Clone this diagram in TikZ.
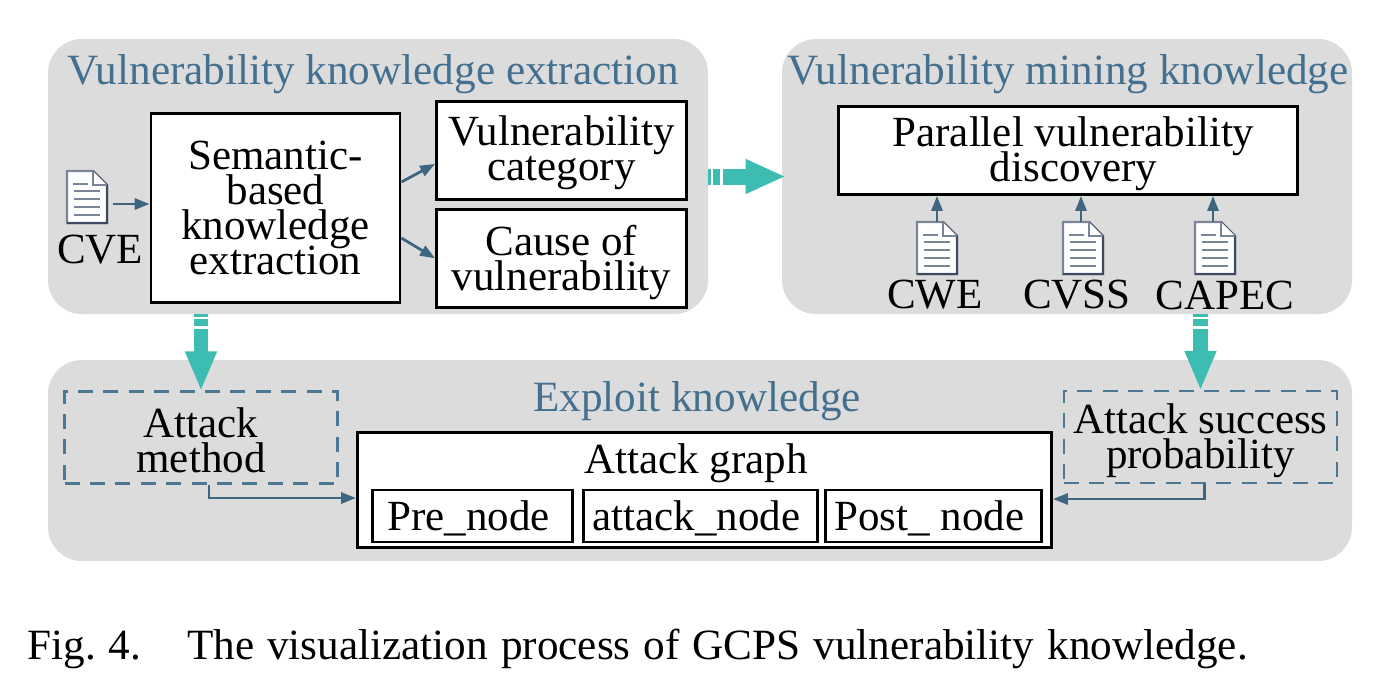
\documentclass[tikz,border=0pt]{standalone}
\usepackage{fontspec}
\setmainfont{Liberation Serif}
\usepackage{xcolor}
\usepackage{tikz}
\usetikzlibrary{arrows.meta}
\usetikzlibrary{positioning}

\definecolor{panelgray}{HTML}{DCDCDC}
\definecolor{titleblue}{HTML}{44708F}
\definecolor{flowblue}{HTML}{3E6680}
\definecolor{dashblue}{HTML}{4A7895}
\definecolor{bigteal}{HTML}{3DBDB1}
\definecolor{docedge}{HTML}{7A8599}
\definecolor{docdark}{HTML}{3F4A60}

\newcommand{\bodyfont}{\fontsize{21.5}{17.5}\selectfont\lineskiplimit=-100pt}

\tikzset{
    panel/.style={fill=panelgray, rounded corners=17pt, inner sep=0pt},
    paneltitle/.style={text=titleblue, font=\fontsize{21.6}{22}\selectfont, inner sep=0pt},
    solidbox/.style={draw=black, fill=white, line width=1.4pt, inner sep=0pt, align=center, font=\bodyfont},
    nodebox/.style={solidbox, minimum height=26pt, text height=17pt, text depth=3pt},
    dashbox/.style={draw=dashblue, line width=1.1pt, dash pattern=on 7.5pt off 5.2pt, inner sep=0pt, align=center, font=\bodyfont},
    doclabel/.style={inner sep=0pt, font=\bodyfont},
    docnode/.style={minimum width=20pt, minimum height=26pt, inner sep=0pt},
    flow/.style={draw=flowblue, line width=1.4pt, -{Triangle[length=7.5pt, width=5.5pt]}},
    bigflow/.style 2 args={draw=bigteal, line width=#1, dash pattern=on 1.5pt off 1pt on 3.5pt off 1.5pt on 200pt off 0pt, -{Triangle[length=20pt, width=#2]}},
    docpic/.pic={
        \draw[fill=white, draw=docedge, line width=1.2pt] (-20,-26) -- (6,-26) -- (20,-12) -- (20,26) -- (-20,26) -- cycle;
        \draw[docdark, line width=1pt] (6,-26) -- (20,-12) -- (20,26) -- (-20,26);
        \draw[fill=white, draw=docedge, line width=1.2pt] (6,-26) -- (6,-12) -- (20,-12);
        \draw[docedge, line width=0.9pt] (-14,-13) -- (1,-13);
        \draw[docedge, line width=1.3pt] (-13,-6) -- (13,-6);
        \draw[docedge, line width=0.9pt] (-13,2) -- (13,2);
        \draw[docedge, line width=0.9pt] (-13,10) -- (13,10);
        \draw[docedge, line width=0.9pt] (-13,18) -- (13,18);
    },
}

\begin{document}
\begin{tikzpicture}[x=0.5pt, y=-0.5pt]
    \useasboundingbox (0,0) rectangle (1378,687);

    % grey panels
    \node[panel, minimum width=330pt, minimum height=137.5pt] (extract) at (378,176.5) {};
    \node[panel, minimum width=285pt, minimum height=137.5pt] (mining) at (1067,176.5) {};
    \node[panel, minimum width=652pt, minimum height=100.5pt] (exploit) at (700,460.5) {};

    \node[paneltitle] (extract title) at (373,74) {Vulnerability knowledge extraction};
    \node[paneltitle] (mining title) at (1068,74) {Vulnerability mining knowledge};
    \node[paneltitle] (exploit title) at (697,401) {Exploit knowledge};

    % top left
    \node[solidbox, minimum width=124.5pt, minimum height=94.5pt] (semantic) at (275.5,208) {Semantic-\\based\\knowledge\\extraction};
    \node[solidbox, minimum width=125pt, minimum height=49pt, text depth=2pt] (category) at (561.5,150.5) {Vulnerability\\category};
    \node[solidbox, minimum width=125pt, minimum height=49pt, text depth=0.6pt, below=3.5pt of category] (cause) {Cause of\\vulnerability};
    \node[docnode] (cve doc) at (87,197) {};
    \node[doclabel] (cve) at (100,250) {CVE};

    % top right
    \node[solidbox, minimum width=229.5pt, minimum height=44pt, text depth=1.2pt] (parallel) at (1068,150.5) {\hspace*{5.5pt}Parallel vulnerability\\\hspace*{5.5pt}discovery};
    \node[docnode] (cwe doc) at (937,248) {};
    \node[docnode] (cvss doc) at (1083,248) {};
    \node[docnode] (capec doc) at (1215,248) {};
    \node[doclabel] (cwe) at (935,295) {CWE};
    \node[doclabel] (cvss) at (1077,295) {CVSS};
    \node[doclabel] (capec) at (1225,295) {CAPEC};

    % bottom row
    \node[dashbox, minimum width=136.5pt, minimum height=46pt] (method) at (201,437.5) {\rule{0pt}{17.7pt}Attack\\method};
    \node[dashbox, minimum width=136.5pt, minimum height=46pt, text depth=1.1pt] (success) at (1200.5,437) {Attack success\\probability};
    \node[solidbox, minimum width=347pt, minimum height=57.5pt] (graph) at (704.5,490) {};
    \node[inner sep=0pt, font=\bodyfont] (graph title) at (696,463) {Attack graph};
    \node[nodebox, minimum width=100pt] (pre) at (472.5,516) {Pre\_node\hspace*{4pt}};
    \node[nodebox, minimum width=117pt, right=4pt of pre] (attack) {attack\_node\hspace*{4pt}};
    \node[nodebox, minimum width=108pt, right=2.6pt of attack] (post) {Post\_ node\hspace*{4pt}};

    % document icons
    \pic at (cve doc) {docpic};
    \pic at (cwe doc) {docpic};
    \pic at (cvss doc) {docpic};
    \pic at (capec doc) {docpic};

    % thin arrows
    \draw[flow, shorten <=3pt] ([yshift=-3.5pt]cve doc.east) -- ([yshift=2pt]semantic.west);
    \draw[flow] ([yshift=13pt]semantic.east) -- ([yshift=-6.7pt]category.west);
    \draw[flow] ([yshift=-15pt]semantic.east) -- (cause.west);
    \draw[flow] (cwe doc.north) -- (parallel.south -| cwe doc.north);
    \draw[flow] ([xshift=-1pt]cvss doc.north) -- ([xshift=-1pt]parallel.south -| cvss doc.north);
    \draw[flow] ([xshift=-1pt]capec doc.north) -- ([xshift=-1pt]parallel.south -| capec doc.north);
    \draw[flow] ([xshift=4pt]method.south) |- ([yshift=-4pt]graph.west);
    \draw[flow] ([xshift=2pt]success.south) |- ([yshift=-4.5pt]graph.east);

    % big arrows
    \draw[bigflow={8pt}{16pt}] (extract.east) -- ([xshift=2pt]mining.west);
    \draw[bigflow={7.4pt}{14.5pt}, shorten >=-0.5pt] (extract.south -| method.north) -- (method.north);
    \draw[bigflow={7.4pt}{14.5pt}, shorten >=-0.5pt] (mining.south -| success.north) -- (success.north);

    \node[anchor=west, inner sep=0pt, font=\fontsize{21.6}{22}\selectfont] (caption) at (27,649) {\spaceskip=6.5pt Fig.~4.\hspace{23pt}The visualization process of GCPS vulnerability knowledge.};
\end{tikzpicture}
\end{document}
